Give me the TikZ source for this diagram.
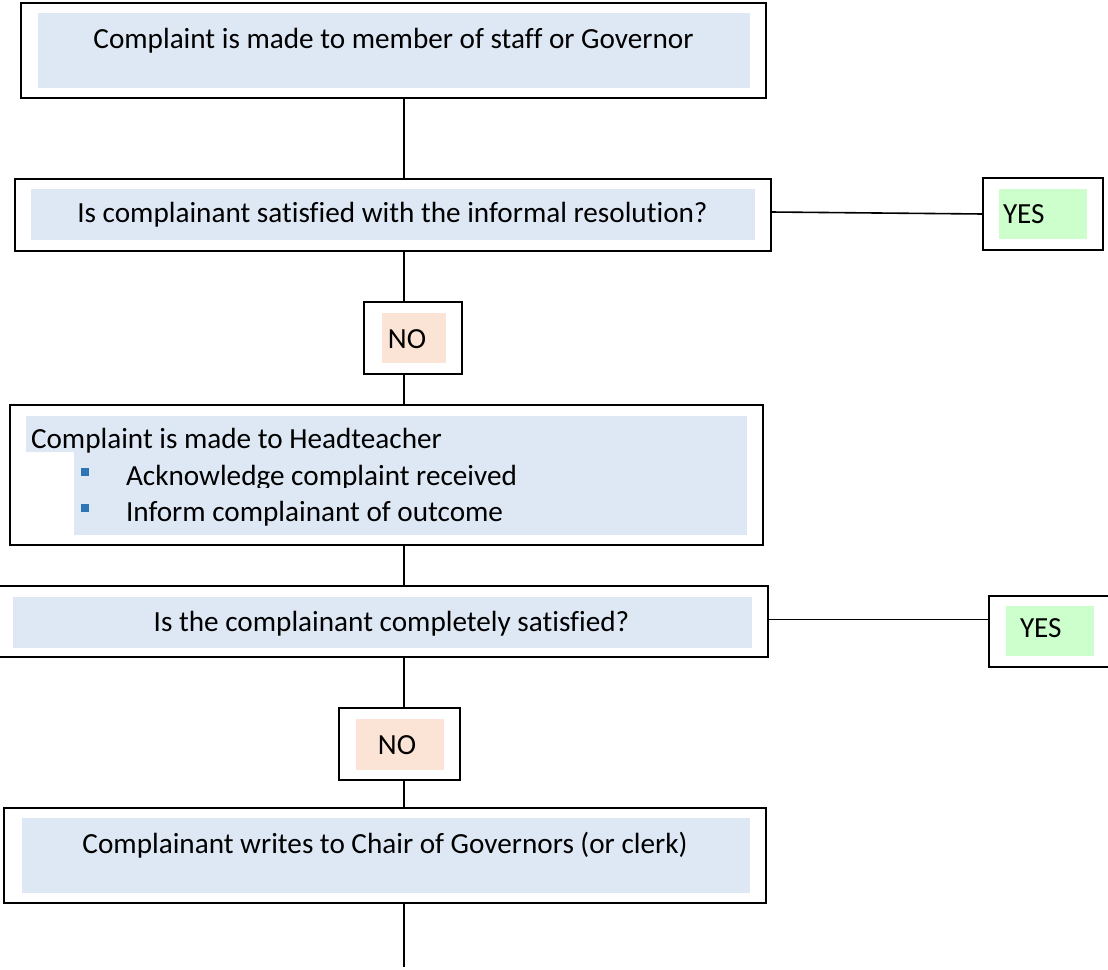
\documentclass[tikz,border=0pt]{standalone}
\usepackage{fontspec}
\setmainfont[Ligatures={NoCommon}]{Carlito}
\definecolor{fillblue}{HTML}{DEE8F5}
\definecolor{fillgreen}{HTML}{CCFFCC}
\definecolor{fillpeach}{HTML}{FBE4D5}
\definecolor{bulletblue}{HTML}{2E75B6}
\begin{document}
\begin{tikzpicture}[x=1pt,y=-1pt,
  outerbox/.style={draw=black, fill=white, line width=1.9pt, inner sep=0pt, outer sep=0pt, rectangle},
  fillbox/.style={inner sep=0pt, outer sep=0pt, rectangle},
  txt/.style={inner sep=0pt, outer sep=0pt, font=\fontsize{29.2}{35.6}\selectfont},
  bulletsq/.style={fill=bulletblue, minimum size=8pt, inner sep=0pt, outer sep=0pt, rectangle},
  conn/.style={draw=black, line width=1.6pt}]
\useasboundingbox (0,0) rectangle (1108,969);

% outer boxes
\node[outerbox, minimum width=745pt, minimum height=95pt] (b1) at (393.5,50.5) {};
\node[outerbox, minimum width=756pt, minimum height=72pt] (b2) at (393,215) {};
\node[outerbox, minimum width=120pt, minimum height=72pt] (yes1) at (1043,214) {};
\node[outerbox, minimum width=98pt, minimum height=72pt] (no1) at (413,338) {};
\node[outerbox, minimum width=753pt, minimum height=140pt] (b3) at (386.5,475) {};
\node[outerbox, minimum width=771pt, minimum height=71pt] (b4) at (382.5,621.5) {};
\node[outerbox, minimum width=126pt, minimum height=71pt] (yes2) at (1052,631.5) {};
\node[outerbox, minimum width=121pt, minimum height=72pt] (no2) at (399.5,744) {};
\node[outerbox, minimum width=762pt, minimum height=95pt] (b5) at (385,855.5) {};

% inner fills
\node[fillbox, fill=fillblue, minimum width=712pt, minimum height=75pt] (f1) at (394,50.5) {};
\node[fillbox, fill=fillblue, minimum width=724pt, minimum height=51pt] (f2) at (393,214.5) {};
\node[fillbox, fill=fillgreen, minimum width=88pt, minimum height=50pt] (fy1) at (1043,214) {};
\node[fillbox, fill=fillpeach, minimum width=64pt, minimum height=50pt] (fn1) at (414,338) {};
\fill[fillblue] (26,416) rectangle (747,452);
\fill[fillblue] (74,416) rectangle (747,535);
\node[fillbox, fill=fillblue, minimum width=739pt, minimum height=51pt] (f4) at (382.5,622.5) {};
\node[fillbox, fill=fillgreen, minimum width=88pt, minimum height=50pt] (fy2) at (1050,631) {};
\node[fillbox, fill=fillpeach, minimum width=88pt, minimum height=51pt] (fn2) at (400,744.5) {};
\node[fillbox, fill=fillblue, minimum width=728pt, minimum height=75pt] (f5) at (386,855.5) {};

% connectors
\coordinate (axis) at (404,0);
\coordinate (endpt) at (404,967);
\draw[conn] (b1.south -| axis) -- (b2.north -| axis);
\draw[conn] (b2.south -| axis) -- (no1.north -| axis);
\draw[conn] (no1.south -| axis) -- (b3.north -| axis);
\draw[conn] (b3.south -| axis) -- (b4.north -| axis);
\draw[conn] (b4.south -| axis) -- (no2.north -| axis);
\draw[conn] (no2.south -| axis) -- (b5.north -| axis);
\draw[conn] (b5.south -| axis) -- (endpt);
\draw[conn] ([yshift=3pt]b2.east) -- (yes1.west);
\draw[conn] ([yshift=2pt]b4.east) -- ([yshift=2pt]b4.east -| yes2.west);

% texts
\node[txt, anchor=base] (t1) at (393.5,48) {Complaint is made to member of staff or Governor};
\node[txt, anchor=base] (t2) at (392.5,222) {Is complainant satisfied with the informal resolution?};
\node[txt, anchor=base west] (ty1) at (1003,223) {YES};
\node[txt, anchor=base] (tn1) at (407,348) {NO};
\node[txt, anchor=base west] (t3) at (31,448) {Complaint is made to Headteacher};
\node[bulletsq] (bl1) at (85,472) {};
\begin{scope}
\clip (100,440) rectangle (760,487);
\node[txt, anchor=base west] (t3a) at (126,485) {Acknowledge complaint received};
\end{scope}
\node[bulletsq] (bl2) at (85,508) {};
\node[txt, anchor=base west] (t3b) at (126,521) {Inform complainant of outcome};
\node[txt, anchor=base] (t4) at (391.5,631) {Is the complainant completely satisfied?};
\node[txt, anchor=base west] (ty2) at (1020,637) {YES};
\node[txt, anchor=base] (tn2) at (397,754) {NO};
\node[txt, anchor=base] (t5) at (385,853) {Complainant writes to Chair of Governors (or clerk)};
\end{tikzpicture}
\end{document}
